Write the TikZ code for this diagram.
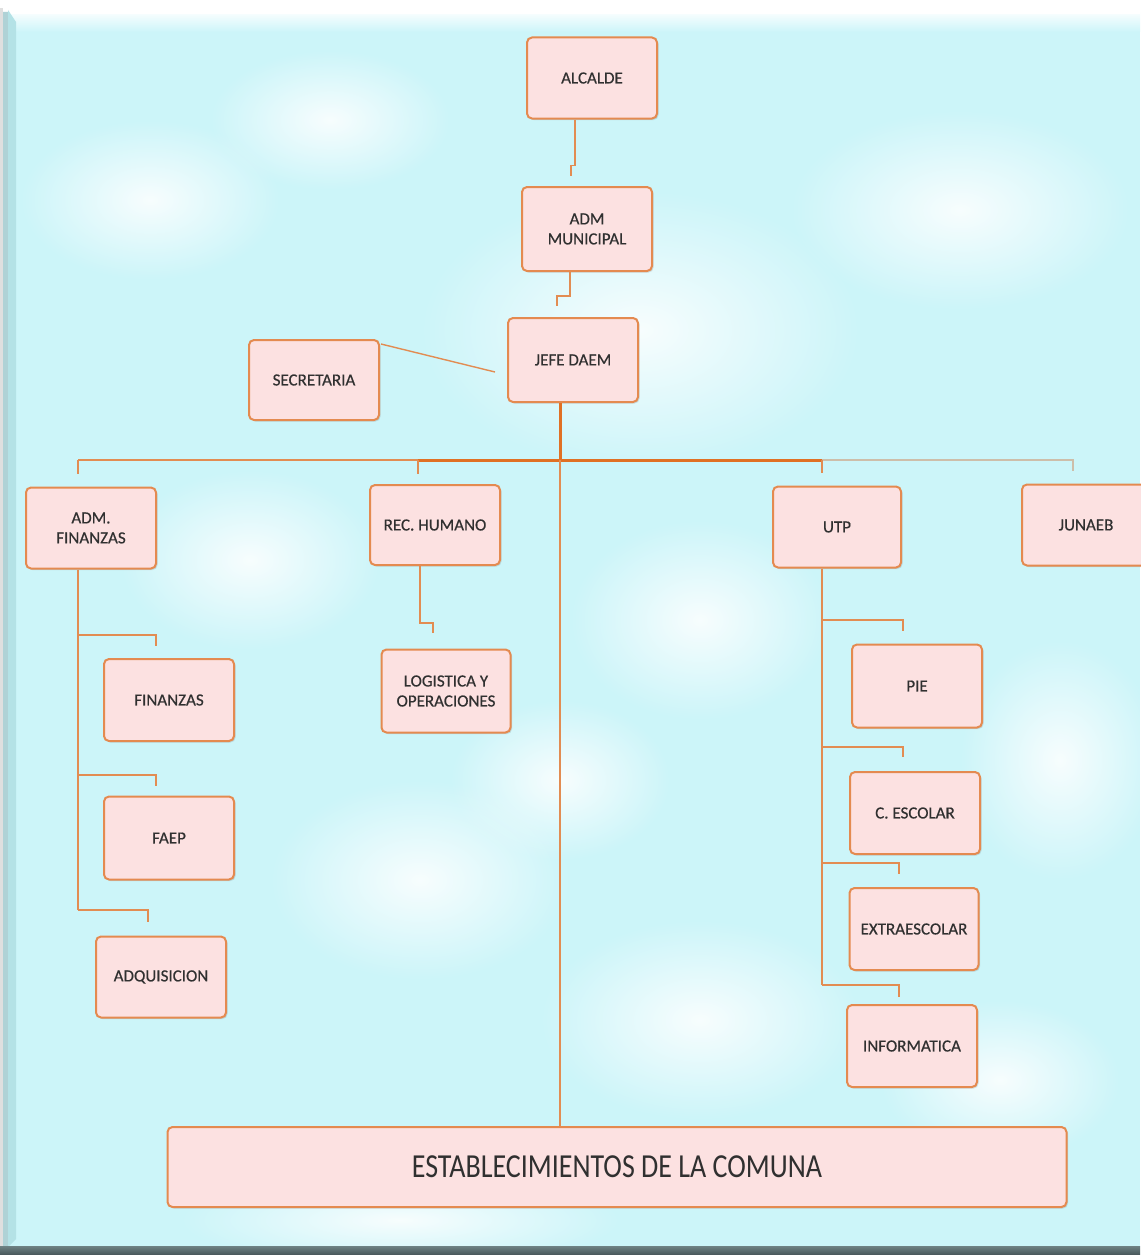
\documentclass[tikz,border=0pt]{standalone}
\usepackage{fontspec}
\usepackage{graphicx}
\setmainfont{Carlito}
\usetikzlibrary{calc,shadows,fadings}
\definecolor{panel}{RGB}{204,245,249}
\definecolor{boxfill}{RGB}{252,225,225}
\definecolor{boxline}{RGB}{228,138,80}
\definecolor{conn}{RGB}{226,140,82}
\definecolor{connthick}{RGB}{224,112,36}
\definecolor{connfaint}{RGB}{205,190,170}
\definecolor{txt}{RGB}{48,48,48}
\definecolor{leftedge}{RGB}{175,210,214}
\definecolor{bevel}{RGB}{180,226,230}
\definecolor{bottomtop}{RGB}{110,130,132}
\definecolor{bottombot}{RGB}{70,85,88}
\tikzfading[name=softspot, inner color=transparent!0, outer color=transparent!100]
\tikzset{
  orgbox/.style={draw=boxline, line width=2pt, fill=boxfill, rounded corners=5pt,
    text=txt, align=center, inner sep=2pt,
    font=\fontsize{17}{20}\selectfont\addfontfeature{FakeBold=0.5},
    drop shadow={opacity=0.25, shadow xshift=1.5pt, shadow yshift=-1.5pt}},
  thinline/.style={draw=conn, line width=1.4pt},
  thickline/.style={draw=connthick, line width=3pt},
  faintline/.style={draw=connfaint, line width=1.4pt},
  cloud/.style={fill=white, path fading=softspot, fill opacity=0.85}
}
\begin{document}
\begin{tikzpicture}[x=1pt,y=-1pt]
\useasboundingbox (0,0) rectangle (1140,1255);
% frame and background
\fill[white] (0,0) rectangle (1140,1255);
\fill[panel] (8,10) rectangle (1140,1247);
\begin{scope}
\clip (8,10) rectangle (1140,1247);
\fill[cloud] (640,330) ellipse [x radius=220, y radius=140];
\fill[cloud] (960,210) ellipse [x radius=170, y radius=100];
\fill[cloud] (250,560) ellipse [x radius=130, y radius=90];
\fill[cloud] (700,620) ellipse [x radius=130, y radius=100];
\fill[cloud] (420,880) ellipse [x radius=150, y radius=100];
\fill[cloud] (700,1020) ellipse [x radius=160, y radius=100];
\fill[cloud] (1060,760) ellipse [x radius=100, y radius=120];
\fill[cloud] (150,200) ellipse [x radius=130, y radius=80];
\fill[cloud] (400,1220) ellipse [x radius=220, y radius=45];
\fill[cloud] (330,120) ellipse [x radius=120, y radius=70];
\fill[cloud] (560,780) ellipse [x radius=110, y radius=80];
\fill[cloud] (1000,1080) ellipse [x radius=120, y radius=80];
\end{scope}
\shade[top color=white, bottom color=panel] (8,10) rectangle (1140,32);
\fill[white] (8,10) rectangle (1140,14);
\fill[leftedge] (0,12) -- (8,12) -- (8,1247) -- (0,1255) -- cycle;
\fill[white!75!gray] (0,8) rectangle (3,1255);
\fill[bevel] (8,10) -- (16,22) -- (16,1239) -- (8,1247) -- cycle;
\shade[top color=bottomtop, bottom color=bottombot] (0,1246) rectangle (1140,1255);

% nodes
\node[orgbox, minimum width=130, minimum height=81] (alc) at (592,78) {ALCALDE};
\node[orgbox, minimum width=130, minimum height=84] (adm) at (587,229) {ADM\\MUNICIPAL};
\node[orgbox, minimum width=130, minimum height=84] (jefe) at (573,360) {JEFE DAEM};
\node[orgbox, minimum width=130, minimum height=80] (sec) at (314,380) {SECRETARIA};
\node[orgbox, minimum width=130, minimum height=81] (admf) at (91,528) {ADM.\\FINANZAS};
\node[orgbox, minimum width=130, minimum height=80] (rec) at (435,525) {REC. HUMANO};
\node[orgbox, minimum width=128, minimum height=81] (utp) at (837,527) {UTP};
\node[orgbox, minimum width=128, minimum height=81] (jun) at (1086,525) {JUNAEB};
\node[orgbox, minimum width=130, minimum height=82] (fin) at (169,700) {FINANZAS};
\node[orgbox, minimum width=130, minimum height=83] (faep) at (169,838) {FAEP};
\node[orgbox, minimum width=130, minimum height=81] (adq) at (161,977) {ADQUISICION};
\node[orgbox, minimum width=129, minimum height=83] (log) at (446,691) {LOGISTICA Y\\OPERACIONES};
\node[orgbox, minimum width=130, minimum height=83] (pie) at (917,686) {PIE};
\node[orgbox, minimum width=130, minimum height=82] (cesc) at (915,813) {C. ESCOLAR};
\node[orgbox, minimum width=129, minimum height=82] (extra) at (914,929) {EXTRAESCOLAR};
\node[orgbox, minimum width=130, minimum height=82] (info) at (912,1046) {INFORMATICA};
\node[orgbox, minimum width=899, minimum height=80, font=\fontsize{28}{32}\selectfont] (est) at (617,1167) {\scalebox{1}[1.2]{ESTABLECIMIENTOS DE LA COMUNA}};

% bus coordinates
\coordinate (busc) at (560,460);
\coordinate (busl) at (78,460);
\coordinate (busr) at (418,460);
\coordinate (busu) at (822,460);
\coordinate (busj) at (1073,460);

% connectors
\draw[thinline] (alc.south -| 575,0) -- ++(0,46) -- ++(-4,0) -- ++(0,10);
\draw[thinline] (adm.south -| 570,0) -- ++(0,24) -- ++(-13,0) -- ++(0,10);
\draw[thinline] ($(sec.north east)+(1,5)$) -- ($(jefe.west)+(-12,12)$);
\draw[thickline] (jefe.south -| busc) -- (busc);
\draw[thinline] (busl) -- (busr);
\draw[thickline] (busr) -- (busu);
\draw[faintline] (busu) -- (busj) -- ++(0,11);
\draw[thinline] (busl) -- ++(0,14);
\draw[thinline] (busr) -- ++(0,14);
\draw[thinline] (busu) -- ++(0,13);
\draw[thinline] (busc) -- (est.north -| busc);
% ADM. FINANZAS branch
\draw[thinline] (admf.south -| 78,0) -- (78,910);
\draw[thinline] (78,635) -- (156,635) -- ++(0,11);
\draw[thinline] (78,775) -- (156,775) -- ++(0,11);
\draw[thinline] (78,910) -- (148,910) -- ++(0,12);
% REC. HUMANO branch
\draw[thinline] (rec.south -| 420,0) -- (420,623) -- (433,623) -- ++(0,10);
% UTP branch
\draw[thinline] (utp.south -| 822,0) -- (822,985);
\draw[thinline] (822,620) -- (903,620) -- ++(0,11);
\draw[thinline] (822,747) -- (903,747) -- ++(0,10);
\draw[thinline] (822,863) -- (899,863) -- ++(0,11);
\draw[thinline] (822,985) -- (899,985) -- ++(0,12);
\end{tikzpicture}
\end{document}
